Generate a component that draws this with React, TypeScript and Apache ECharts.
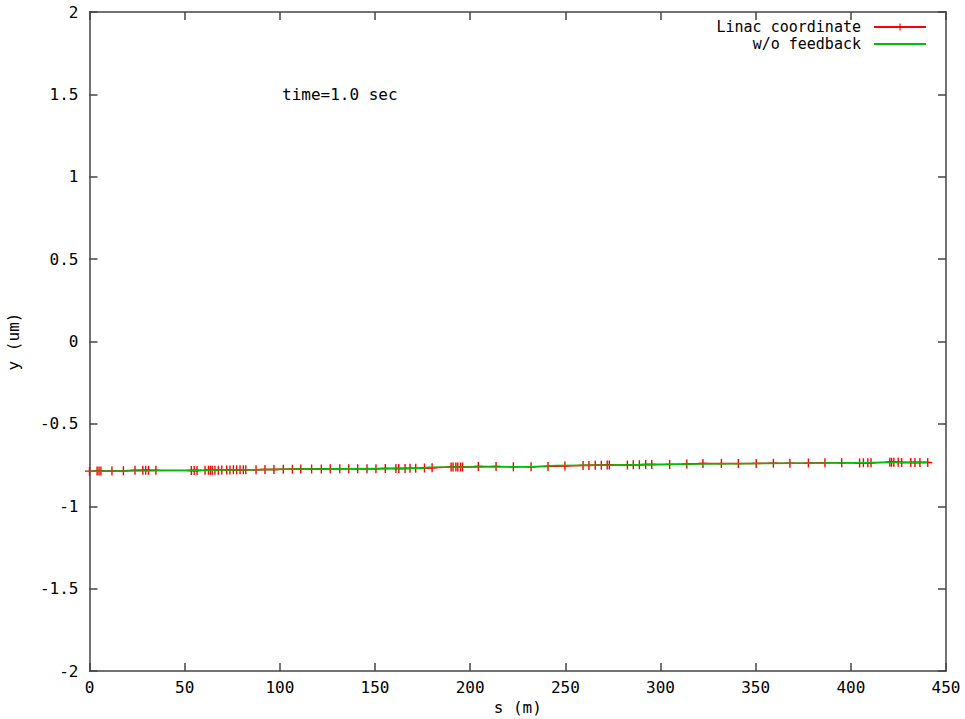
import React, { useEffect, useRef } from "react";
import * as echarts from "echarts";

const xTicks = { min: 0, max: 450, interval: 50 };
const yTicks = { min: -2, max: 2, interval: 0.5 };

const legendNames = ["Linac coordinate", "w/o feedback"];
const annotation = "time=1.0 sec";
const xName = "s (m)";
const yName = "y (um)";

// s (m), y (um)
const linacPoints: [number, number][] = [
  [0, -0.787], [4, -0.786], [5, -0.786], [6, -0.786], [11.8, -0.786], [17.8, -0.785],
  [23.9, -0.782], [28, -0.782], [29.5, -0.782], [31, -0.782], [34.9, -0.782],
  [53.5, -0.783], [55, -0.783], [56.5, -0.783], [60.7, -0.782], [62.5, -0.781],
  [63.5, -0.781], [64.5, -0.781], [65.9, -0.781], [67.7, -0.781], [69.5, -0.78],
  [72.1, -0.78], [73.8, -0.78], [75.6, -0.779], [77.3, -0.779], [79.1, -0.779],
  [80.8, -0.779], [82.1, -0.779], [87.5, -0.778], [92.2, -0.777], [96.9, -0.777],
  [101.8, -0.776], [106.6, -0.775], [111, -0.774], [116.7, -0.774], [121.8, -0.774],
  [126.5, -0.773], [131.5, -0.773], [136.2, -0.773], [140.9, -0.772], [145.8, -0.772],
  [150.5, -0.772], [155.4, -0.771], [161, -0.771], [162.5, -0.771], [165.8, -0.771],
  [168.4, -0.77], [171.4, -0.77], [176, -0.768], [180, -0.767], [190, -0.762],
  [191, -0.762], [192.5, -0.762], [193.5, -0.762], [195, -0.762], [196, -0.762],
  [204.3, -0.759], [213.6, -0.759], [222.7, -0.76], [232, -0.76], [240.9, -0.758],
  [249.8, -0.755], [259.3, -0.752], [262.4, -0.752], [265.7, -0.751], [268.9, -0.751],
  [272, -0.749], [273.1, -0.749], [282.6, -0.749], [285.7, -0.748], [288.9, -0.748],
  [292.2, -0.747], [295.4, -0.747], [304.8, -0.746], [313.8, -0.744], [322.3, -0.74],
  [332, -0.741], [340.9, -0.741], [350.3, -0.74], [359.3, -0.739], [368, -0.739],
  [377.7, -0.738], [386.4, -0.736], [395.2, -0.736], [404.6, -0.737], [406.6, -0.736],
  [408.9, -0.736], [410.6, -0.736], [420.5, -0.733], [421.4, -0.733], [422.6, -0.733],
  [424.9, -0.733], [426.7, -0.734], [431.5, -0.734], [433.7, -0.734], [436.3, -0.734],
  [440.4, -0.734],
];

const noFeedbackPoints: [number, number][] = [
  [0, -0.787], [35, -0.785], [60, -0.782], [112, -0.774], [175, -0.77], [178, -0.763],
  [232, -0.76], [245, -0.752], [275, -0.75], [320, -0.743], [354, -0.74], [385, -0.738],
  [400, -0.736], [418, -0.734], [440.4, -0.733],
];

const FONT = "DejaVu Sans Mono";
const AXIS_COLOR = "#444";
const plusSymbol = "path://M3.8,0H5.2V3.8H9V5.2H5.2V9H3.8V5.2H0V3.8H3.8Z";

export default function App() {
  const ref = useRef<HTMLDivElement>(null);
  useEffect(() => {
    if (!ref.current) return;
    const chart = echarts.init(ref.current, null, { renderer: "svg" });
    const axisLine = { show: true, onZero: false, lineStyle: { color: AXIS_COLOR, width: 1.5 } };
    const tick = { show: true, inside: true, length: 8, lineStyle: { color: AXIS_COLOR, width: 1.5 } };
    const label = { color: "#000", fontFamily: FONT, fontSize: 16 };
    chart.setOption({
      animation: false,
      backgroundColor: "#fff",
      grid: { left: 89.5, right: 19, top: 12, bottom: 48, containLabel: false, outerBoundsMode: "none" },
      legend: {
        data: [
          { name: legendNames[0] },
          { name: legendNames[1], itemStyle: { opacity: 0 } },
        ],
        orient: "vertical",
        right: 33,
        top: 14,
        align: "right",
        itemWidth: 52,
        itemHeight: 9,
        itemGap: 1,
        textStyle: { fontFamily: FONT, fontSize: 15, lineHeight: 16, color: "#000", padding: [0, 8, 0, 0] },
      },
      graphic: [
        {
          type: "text",
          left: 282,
          top: 86,
          style: { text: annotation, fontFamily: FONT, fontSize: 16, fill: "#000" },
        },
      ],
      xAxis: [
        {
          type: "value",
          min: xTicks.min,
          max: xTicks.max,
          interval: xTicks.interval,
          position: "bottom",
          name: xName,
          nameLocation: "middle",
          nameGap: 25,
          nameTextStyle: { fontFamily: FONT, fontSize: 16, color: "#000" },
          axisLine,
          axisTick: tick,
          axisLabel: { ...label, margin: 8 },
          splitLine: { show: false },
        },
        {
          type: "value",
          min: xTicks.min,
          max: xTicks.max,
          interval: xTicks.interval,
          position: "top",
          axisLine,
          axisTick: tick,
          axisLabel: { show: false },
          splitLine: { show: false },
        },
      ],
      yAxis: [
        {
          type: "value",
          min: yTicks.min,
          max: yTicks.max,
          interval: yTicks.interval,
          position: "left",
          name: yName,
          nameLocation: "middle",
          nameGap: 68,
          nameTextStyle: { fontFamily: FONT, fontSize: 16, color: "#000" },
          axisLine,
          axisTick: tick,
          axisLabel: { ...label, margin: 11 },
          splitLine: { show: false },
        },
        {
          type: "value",
          min: yTicks.min,
          max: yTicks.max,
          interval: yTicks.interval,
          position: "right",
          axisLine,
          axisTick: tick,
          axisLabel: { show: false },
          splitLine: { show: false },
        },
      ],
      series: [
        {
          name: legendNames[0],
          type: "line",
          data: linacPoints,
          symbol: plusSymbol,
          symbolSize: 9,
          showSymbol: true,
          showAllSymbol: true,
          lineStyle: { color: "#ff0000", width: 1.5 },
          itemStyle: { color: "#ff0000" },
          z: 2,
        },
        {
          name: legendNames[1],
          type: "line",
          data: noFeedbackPoints,
          symbol: "none",
          lineStyle: { color: "#00c000", width: 1.5 },
          itemStyle: { color: "#00c000" },
          z: 3,
        },
      ],
    });
    return () => chart.dispose();
  }, []);
  return <div ref={ref} style={{ width: 965, height: 719, position: "absolute", left: 0, top: 0 }} />;
}
